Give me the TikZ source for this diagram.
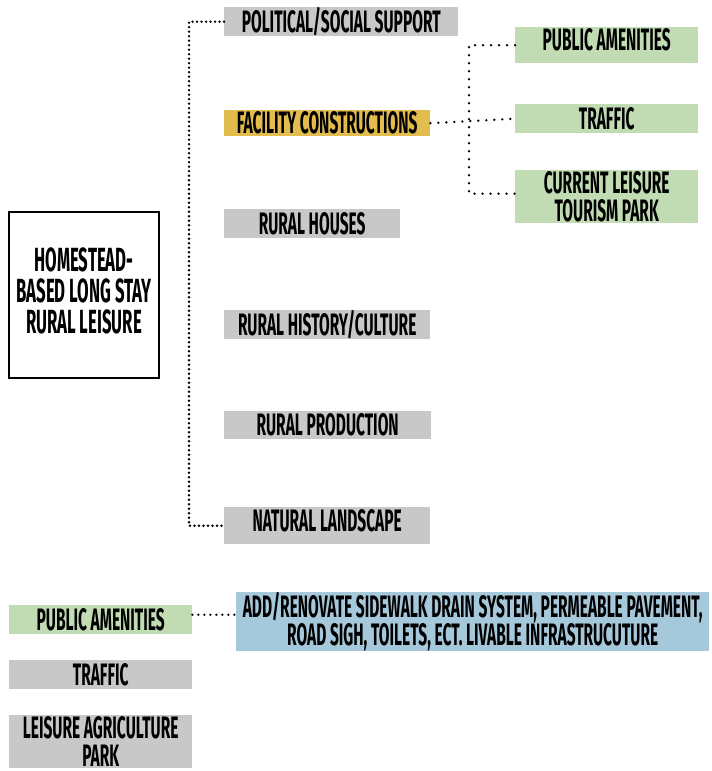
\documentclass[tikz,border=0pt]{standalone}
\usepackage{fontspec}
\setmainfont[FakeStretch=0.5]{Fira Sans}
\usetikzlibrary{positioning}
\definecolor{boxgrey}{HTML}{C8C8C8}
\definecolor{boxyellow}{HTML}{E3BC4E}
\definecolor{boxgreen}{HTML}{C1DCB3}
\definecolor{boxblue}{HTML}{A6C8DB}
\begin{document}
\begin{tikzpicture}[x=1pt, y=-1pt,
  box/.style={anchor=north west, inner sep=0pt, align=center, font=\bfseries\fontsize{31}{28}\selectfont},
  greybox/.style={box, fill=boxgrey},
  greenbox/.style={box, fill=boxgreen},
  link/.style={line width=2.6pt, line cap=round, dash pattern=on 0pt off #1},
  link/.default=6pt]
  \useasboundingbox (0,0) rectangle (712,771);

  % main factor
  \node[draw, line width=2pt, fill=white, minimum width=150pt, minimum height=166pt, align=center, text depth=8pt, font=\bfseries\fontsize{33.5}{31}\selectfont] (H) at (84,295) {HOMESTEAD-\\BASED LONG STAY\\RURAL LEISURE};

  % first level
  \node[greybox, minimum width=234pt, minimum height=29pt] (POL) at (224,7) {POLITICAL/SOCIAL SUPPORT};
  \node[box, fill=boxyellow, minimum width=206pt, minimum height=26pt] (FAC) at (224,110) {FACILITY CONSTRUCTIONS};
  \node[greybox, minimum width=176pt, minimum height=29pt] (HOU) at (224,209) {RURAL HOUSES};
  \node[greybox, minimum width=206pt, minimum height=29pt] (HIS) at (224,310) {RURAL HISTORY/CULTURE};
  \node[greybox, minimum width=207pt, minimum height=28pt] (PRO) at (224,411) {RURAL PRODUCTION};
  \node[greybox, minimum width=206pt, minimum height=37pt, text depth=11pt] (NAT) at (224,507) {NATURAL LANDSCAPE};

  % second level
  \node[greenbox, minimum width=183pt, minimum height=36pt, text depth=12pt] (PUB) at (515,27) {PUBLIC AMENITIES};
  \node[greenbox, minimum width=183pt, minimum height=29pt] (TRA) at (515,104) {TRAFFIC};
  \node[greenbox, minimum width=183pt, minimum height=53pt] (CUR) at (515,170) {CURRENT LEISURE\\TOURISM PARK};

  % detail
  \node[greenbox, minimum width=183pt, minimum height=29pt] (BPUB) at (9,605) {PUBLIC AMENITIES};
  \node[greybox, minimum width=183pt, minimum height=29pt] (BTRA) at (9,660) {TRAFFIC};
  \node[greybox, minimum width=183pt, minimum height=53pt] (BLEI) at (9,715) {LEISURE AGRICULTURE\\PARK};
  \node[box, fill=boxblue, minimum width=473pt, minimum height=56pt] (ADD) at (236,592) {ADD/RENOVATE SIDEWALK DRAIN SYSTEM, PERMEABLE PAVEMENT,\\ROAD SIGH, TOILETS, ECT. LIVABLE INFRASTRUCUTURE};

  \draw[link=4.5pt] (POL.west) -- ++(-35,0) |- (NAT.west);
  \draw[link=8pt] (FAC.east) -- (TRA.west);
  \draw[link=8pt] (PUB.west) -- ++(-46,0) |- ([yshift=3pt]CUR.west);
  \draw[link] ([yshift=5pt]BPUB.east) -- ([yshift=5pt]BPUB.east -| ADD.west);
\end{tikzpicture}
\end{document}
